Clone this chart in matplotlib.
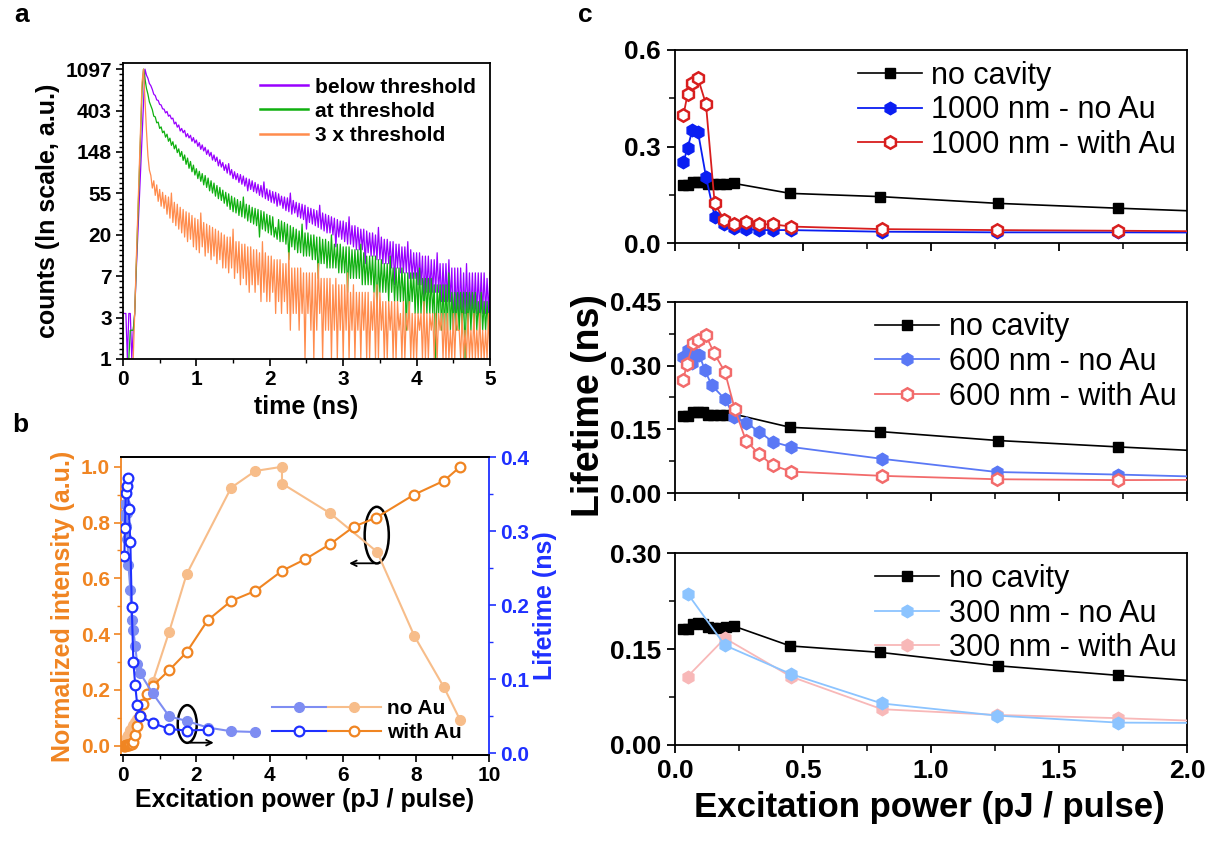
import numpy as np
import matplotlib
matplotlib.use('Agg')
import matplotlib.pyplot as plt
import matplotlib.ticker as ticker
from matplotlib.patches import Ellipse
from matplotlib.lines import Line2D
from matplotlib.legend_handler import HandlerTuple

plt.rcParams['font.family'] = ['Liberation Sans', 'DejaVu Sans']
plt.rcParams['font.weight'] = 'bold'
plt.rcParams['axes.labelweight'] = 'bold'
plt.rcParams['axes.linewidth'] = 1.3

# ---------------- panel a: TRPL decay (counts per 0.02 ns bin) ----------------
t_step = 0.02
below = [3, 3, 3, 1, 3, 3, 1, 2, 3, 8,
         18, 40, 90, 200, 450, 1097, 950, 880, 775, 735,
         672, 598, 580, 522, 515, 468, 462, 420, 418, 381,
         395, 352, 362, 330, 336, 292, 305, 270, 285, 246,
         262, 236, 250, 214, 231, 208, 222, 192, 210, 184,
         198, 170, 186, 158, 176, 152, 166, 140, 156, 134,
         147, 122, 138, 118, 131, 106, 123, 103, 115, 95,
         109, 89, 112, 85, 97, 78, 92, 76, 88, 71,
         86, 68, 83, 65, 79, 58, 77, 60, 74, 57,
         71, 55, 68, 52, 66, 50, 72, 48, 61, 46,
         59, 44, 57, 43, 56, 40, 54, 41, 51, 38,
         50, 36, 49, 35, 55, 33, 46, 34, 44, 31,
         43, 30, 42, 29, 41, 23, 39, 27, 38, 26,
         37, 25, 36, 24, 41, 23, 34, 22, 33, 21,
         32, 21, 31, 20, 30, 15, 29, 19, 28, 18,
         28, 17, 27, 16, 31, 16, 25, 15, 25, 14,
         24, 14, 23, 14, 23, 10, 22, 13, 21, 12,
         21, 12, 20, 11, 24, 11, 19, 10, 18, 10,
         18, 10, 17, 9, 17, 6, 16, 9, 16, 8,
         15, 8, 15, 8, 17, 7, 14, 7, 13, 7,
         13, 6, 13, 6, 12, 4, 12, 5, 12, 5,
         11, 5, 11, 5, 13, 5, 10, 4, 10, 4,
         10, 4, 11, 4, 9, 2, 9, 3, 9, 3,
         9, 3, 8, 3, 10, 3, 8, 3, 8, 3,
         8, 3, 8, 3, 8, 3, 8, 3, 7, 3, 8]
at_thr = [1, 1, 1, 1, 1, 2, 2, 2, 3, 9,
          25, 75, 220, 665, 1097, 870, 690, 600, 498, 452,
          412, 352, 346, 300, 305, 262, 272, 236, 246, 212,
          228, 192, 207, 174, 190, 160, 176, 146, 160, 133,
          150, 121, 138, 110, 128, 100, 118, 92, 108, 85,
          99, 78, 93, 73, 88, 67, 84, 63, 79, 58,
          74, 55, 70, 51, 66, 48, 63, 46, 59, 43,
          56, 40, 54, 37, 51, 35, 49, 34, 47, 32,
          45, 31, 50, 30, 42, 28, 41, 27, 39, 26,
          38, 25, 37, 19, 36, 23, 35, 22, 33, 21,
          32, 20, 31, 19, 24, 18, 29, 17, 28, 17,
          27, 16, 26, 11, 25, 15, 24, 14, 23, 13,
          22, 13, 26, 12, 21, 12, 21, 12, 20, 11,
          20, 11, 19, 7, 19, 10, 18, 10, 18, 9,
          17, 9, 20, 9, 16, 9, 16, 8, 16, 8,
          15, 8, 15, 5, 15, 7, 14, 7, 14, 7,
          14, 7, 16, 6, 13, 6, 12, 6, 12, 6,
          12, 5, 12, 3, 11, 5, 11, 5, 10, 5,
          10, 4, 12, 5, 9, 4, 9, 4, 9, 4,
          9, 4, 8, 2, 8, 3, 8, 4, 8, 3,
          8, 3, 9, 3, 7, 3, 7, 3, 7, 3,
          7, 3, 6, 1, 6, 3, 6, 2, 6, 2,
          6, 2, 8, 2, 5, 2, 5, 2, 5, 2,
          5, 2, 5, 1, 5, 2, 5, 2, 5, 2,
          5, 2, 4, 2, 5, 2, 4, 2, 4, 2, 4]
three_thr = [1, 1, 1, 1, 1, 1, 1, 1, 3, 10,
             30, 90, 280, 800, 1097, 520, 250, 135, 96, 84,
             62, 74, 52, 67, 45, 60, 40, 56, 38, 52,
             33, 50, 30, 55, 27, 44, 25, 42, 23, 39,
             21, 37, 19, 35, 17, 34, 18, 32, 15, 30,
             14, 29, 13, 34, 15, 27, 12, 26, 13, 25,
             11, 24, 12, 23, 10, 22, 11, 21, 9, 20,
             9, 19, 8, 19, 9, 23, 7, 17, 8, 17,
             6, 16, 7, 16, 6, 15, 5, 15, 6, 14,
             5, 14, 6, 13, 4, 17, 5, 13, 4, 12,
             4, 12, 5, 11, 3, 11, 4, 11, 3, 10,
             4, 10, 3, 13, 2, 9, 3, 9, 3, 9,
             2, 9, 3, 8, 1, 8, 3, 8, 2, 8,
             1, 8, 2, 10, 3, 7, 1, 7, 2, 7,
             2, 7, 1, 6, 2, 7, 1, 6, 2, 6,
             1, 6, 2, 8, 1, 5, 2, 6, 1, 5,
             2, 5, 1, 5, 2, 5, 1, 5, 1, 4,
             2, 5, 1, 6, 1, 5, 2, 4, 1, 4,
             1, 4, 2, 4, 1, 4, 1, 4, 2, 3,
             1, 4, 1, 3, 2, 4, 1, 3, 1, 3,
             1, 3, 2, 3, 1, 4, 1, 3, 1, 3,
             2, 3, 1, 3, 1, 3, 2, 3, 1, 3,
             1, 3, 1, 2, 1, 3, 1, 3, 2, 2,
             1, 3, 1, 2, 1, 3, 1, 2, 1, 3,
             1, 2, 1, 3, 1, 2, 1, 2, 1, 3, 1]
a_ticks = [1, 3, 7, 20, 55, 148, 403, 1097]

# ---------------- panel b: intensity vs power (600 nm) ----------------
noau_int_x = [0.033, 0.049, 0.068, 0.082, 0.095, 0.117, 0.143, 0.195, 0.232, 0.277, 0.328, 0.382, 0.453,
              0.808, 1.257, 1.731, 2.95, 3.61, 4.34, 4.34, 5.66, 6.94, 7.96, 8.77, 9.21]
noau_int = [0.002, 0.006, 0.012, 0.018, 0.024, 0.032, 0.040, 0.055, 0.065, 0.075, 0.085, 0.095, 0.110,
            0.229, 0.409, 0.614, 0.925, 0.985, 1.0, 0.94, 0.833, 0.695, 0.393, 0.209, 0.092]
withau_int_x = [0.033, 0.046, 0.072, 0.091, 0.120, 0.152, 0.195, 0.234, 0.277, 0.328, 0.382, 0.453, 0.55, 0.64,
                0.808, 1.257, 1.731, 2.31, 2.95, 3.61, 4.34, 4.98, 5.66, 6.30, 6.92, 7.95, 8.77, 9.21]
withau_int = [0.0, 0.0, 0.001, 0.002, 0.003, 0.004, 0.006, 0.008, 0.012, 0.040, 0.070, 0.105, 0.150, 0.185,
              0.215, 0.271, 0.335, 0.450, 0.519, 0.555, 0.627, 0.669, 0.723, 0.785, 0.818, 0.900, 0.950, 1.0]

# ---------------- panel c: lifetimes (ns) ----------------
nocav_x = [0.03, 0.05, 0.07, 0.09, 0.11, 0.13, 0.15, 0.175, 0.20, 0.23, 0.45, 0.80, 1.26, 1.73, 2.31]
nocav = [0.181, 0.182, 0.190, 0.191, 0.190, 0.185, 0.183, 0.183, 0.184, 0.186, 0.155, 0.145, 0.124, 0.109, 0.092]

x1000 = [0.033, 0.049, 0.068, 0.09, 0.121, 0.155, 0.192, 0.232, 0.277, 0.328, 0.382, 0.453, 0.808, 1.257, 1.731, 2.31]
noau_1000 = [0.253, 0.295, 0.352, 0.345, 0.207, 0.083, 0.059, 0.047, 0.044, 0.041, 0.041, 0.041, 0.036, 0.034, 0.034, 0.033]
withau_1000 = [0.398, 0.462, 0.497, 0.512, 0.432, 0.124, 0.072, 0.059, 0.067, 0.059, 0.059, 0.052, 0.044, 0.041, 0.039, 0.036]

noau_600_x = [0.033, 0.049, 0.068, 0.082, 0.095, 0.117, 0.143, 0.195, 0.232, 0.277, 0.328, 0.382, 0.453,
              0.808, 1.257, 1.731, 2.31, 2.95, 3.61]
noau_600 = [0.321, 0.336, 0.307, 0.325, 0.325, 0.289, 0.254, 0.221, 0.180, 0.166, 0.145, 0.121, 0.109,
            0.081, 0.050, 0.044, 0.035, 0.030, 0.029]
withau_600_x = [0.033, 0.046, 0.072, 0.091, 0.120, 0.152, 0.195, 0.234, 0.277, 0.328, 0.382, 0.453,
                0.808, 1.257, 1.731, 2.31]
withau_600 = [0.266, 0.304, 0.352, 0.361, 0.372, 0.330, 0.285, 0.197, 0.124, 0.092, 0.066, 0.051,
              0.041, 0.033, 0.031, 0.032]

x300 = [0.049, 0.195, 0.453, 0.808, 1.257, 1.731, 2.31]
noau_300 = [0.237, 0.156, 0.111, 0.065, 0.046, 0.035, 0.034]
withau_300 = [0.107, 0.167, 0.107, 0.056, 0.047, 0.042, 0.034]

fig = plt.figure(figsize=(12.09, 8.46), dpi=100)

# ================= panel a =================
ax_a = fig.add_axes([0.1017, 0.5757, 0.3036, 0.3499])
ax_a.plot(np.arange(len(below)) * t_step, below, color='#9900ff', lw=0.9, label='below threshold')
ax_a.plot(np.arange(len(at_thr)) * t_step, at_thr, color='#10b010', lw=0.9, label='at threshold')
ax_a.plot(np.arange(len(three_thr)) * t_step, three_thr, color='#ff8c4d', lw=0.9, label='3 x threshold')
ax_a.set_yscale('log', base=np.e)
ax_a.set_xlim(0, 5)
ax_a.set_ylim(1, np.exp(7.15))
ax_a.yaxis.set_major_locator(ticker.FixedLocator(np.exp(np.arange(8))))
ax_a.yaxis.set_major_formatter(ticker.FixedFormatter([str(v) for v in a_ticks]))
ax_a.yaxis.set_minor_locator(ticker.FixedLocator(
    [np.exp(k + j / 8) for k in range(8) for j in range(1, 8)]))
ax_a.yaxis.set_minor_formatter(ticker.NullFormatter())
ax_a.xaxis.set_major_locator(ticker.MultipleLocator(1))
ax_a.xaxis.set_minor_locator(ticker.MultipleLocator(0.5))
ax_a.tick_params(which='major', direction='out', length=5, width=1.2, labelsize=15, pad=3)
ax_a.tick_params(which='minor', direction='out', length=3, width=1.0)
ax_a.set_xlabel('time (ns)', fontsize=18, labelpad=4)
ax_a.set_ylabel('counts (ln scale, a.u.)', fontsize=18, labelpad=4)
leg_a = ax_a.legend(loc='upper right', frameon=False, fontsize=15, handlelength=2.3,
                    labelspacing=0.25, handletextpad=0.3, borderaxespad=0.3)
for ln in leg_a.get_lines():
    ln.set_linewidth(1.8)

# ================= panel b =================
c_or = '#f08522'
c_or_l = '#f7bd8a'
c_bl = '#1f30ff'
c_bl_l = '#7e8df2'
ax_b = fig.add_axes([0.1001, 0.1076, 0.3044, 0.3522])
ax_b.plot(noau_int_x, noau_int, color=c_or_l, lw=1.5, marker='o', ms=7, mfc=c_or_l, mec=c_or_l)
ax_b.plot(withau_int_x, withau_int, color=c_or, lw=1.5, marker='o', ms=7, mfc='white', mec=c_or, mew=1.6)
ax_b.set_xlim(-0.06, 10)
ax_b.set_ylim(-0.033, 1.035)
ax_b.xaxis.set_major_locator(ticker.MultipleLocator(2))
ax_b.xaxis.set_minor_locator(ticker.MultipleLocator(1))
ax_b.yaxis.set_major_locator(ticker.MultipleLocator(0.2))
ax_b.yaxis.set_minor_locator(ticker.MultipleLocator(0.1))
ax_b.yaxis.set_major_formatter(ticker.FormatStrFormatter('%.1f'))
ax_b.tick_params(which='major', direction='out', length=5, width=1.2, labelsize=15, pad=3)
ax_b.tick_params(which='minor', direction='out', length=3, width=1.0)
ax_b.tick_params(axis='y', which='both', colors=c_or)
ax_b.spines['left'].set_color(c_or)
ax_b.spines['right'].set_visible(False)
ax_b.set_xlabel('Excitation power (pJ / pulse)', fontsize=18, labelpad=2)
ax_b.set_ylabel('Normalized intensity (a.u.)', fontsize=18, color=c_or, labelpad=4)
ax_b.add_patch(Ellipse((6.93, 0.755), 0.66, 0.203, fill=False, ec='black', lw=1.8))
ax_b.annotate('', xy=(6.1, 0.654), xytext=(6.93, 0.654),
              arrowprops=dict(arrowstyle='->', color='black', lw=1.3))
ax_b.add_patch(Ellipse((1.75, 0.078), 0.52, 0.135, fill=False, ec='black', lw=1.8))
ax_b.annotate('', xy=(2.55, 0.011), xytext=(1.75, 0.011),
              arrowprops=dict(arrowstyle='->', color='black', lw=1.3))

ax_b2 = ax_b.twinx()
ax_b2.plot(noau_600_x, noau_600, color=c_bl_l, lw=1.5, marker='o', ms=7, mfc=c_bl_l, mec=c_bl_l)
ax_b2.plot(withau_600_x, withau_600, color=c_bl, lw=1.5, marker='o', ms=7, mfc='white', mec=c_bl, mew=1.6)
ax_b2.set_ylim(-0.002, 0.4)
ax_b2.yaxis.set_major_locator(ticker.MultipleLocator(0.1))
ax_b2.yaxis.set_minor_locator(ticker.MultipleLocator(0.05))
ax_b2.yaxis.set_major_formatter(ticker.FormatStrFormatter('%.1f'))
ax_b2.tick_params(which='major', direction='out', length=5, width=1.2, labelsize=15, pad=3, colors=c_bl)
ax_b2.tick_params(which='minor', direction='out', length=3, width=1.0, colors=c_bl)
ax_b2.spines['right'].set_color(c_bl)
ax_b2.spines['left'].set_visible(False)
ax_b2.set_ylabel('Lifetime (ns)', fontsize=18, color=c_bl, labelpad=3)

h_no = (Line2D([], [], color=c_bl_l, lw=1.5, marker='o', ms=7, mfc=c_bl_l, mec=c_bl_l),
        Line2D([], [], color=c_or_l, lw=1.5, marker='o', ms=7, mfc=c_or_l, mec=c_or_l))
h_with = (Line2D([], [], color=c_bl, lw=1.5, marker='o', ms=7, mfc='white', mec=c_bl, mew=1.6),
          Line2D([], [], color=c_or, lw=1.5, marker='o', ms=7, mfc='white', mec=c_or, mew=1.6))
ax_b2.legend([h_no, h_with], ['no Au', 'with Au'], handler_map={tuple: HandlerTuple(ndivide=None, pad=0.1)},
             loc='lower right', bbox_to_anchor=(0.96, 0.0), frameon=False, fontsize=15,
             handlelength=5.2, handletextpad=0.3, labelspacing=0.25, borderaxespad=0.2)

# ================= panel c =================
c_rows = [
    dict(pos=[0.5583, 0.7124, 0.4235, 0.2285], ymax=0.6, major=0.3, minor=0.15, fmt='%.1f',
         x2=x1000, y2=noau_1000, c2='#0a1ef2', l2='1000 nm - no Au',
         x3=x1000, y3=withau_1000, c3='#d81e1e', l3='1000 nm - with Au', open3=True),
    dict(pos=[0.5583, 0.4169, 0.4235, 0.2265], ymax=0.45, major=0.15, minor=0.075, fmt='%.2f',
         x2=noau_600_x, y2=noau_600, c2='#5a78f5', l2='600 nm - no Au',
         x3=withau_600_x, y3=withau_600, c3='#f26b6b', l3='600 nm - with Au', open3=True),
    dict(pos=[0.5583, 0.1194, 0.4235, 0.2266], ymax=0.30, major=0.15, minor=0.075, fmt='%.2f',
         x2=x300, y2=noau_300, c2='#8cc4ff', l2='300 nm - no Au',
         x3=x300, y3=withau_300, c3='#f8b8b8', l3='300 nm - with Au', open3=False),
]
for i, r in enumerate(c_rows):
    ax = fig.add_axes(r['pos'])
    ax.plot(nocav_x, nocav, color='black', lw=1.2, marker='s', ms=7.5, label='no cavity', zorder=3)
    ax.plot(r['x2'], r['y2'], color=r['c2'], lw=1.3, marker='h', ms=9, mfc=r['c2'], mec=r['c2'],
            label=r['l2'], zorder=4 if not r['open3'] else 3)
    if r['open3']:
        ax.plot(r['x3'], r['y3'], color=r['c3'], lw=1.3, marker='h', ms=9, mfc='white', mec=r['c3'],
                mew=1.8, label=r['l3'], zorder=3)
    else:
        ax.plot(r['x3'], r['y3'], color=r['c3'], lw=1.3, marker='h', ms=9, mfc=r['c3'], mec=r['c3'],
                label=r['l3'], zorder=3)
    ax.set_xlim(0, 2.0)
    ax.set_ylim(0, r['ymax'])
    ax.xaxis.set_major_locator(ticker.MultipleLocator(0.5))
    ax.xaxis.set_minor_locator(ticker.MultipleLocator(0.25))
    ax.yaxis.set_major_locator(ticker.MultipleLocator(r['major']))
    ax.yaxis.set_minor_locator(ticker.MultipleLocator(r['minor']))
    ax.yaxis.set_major_formatter(ticker.FormatStrFormatter(r['fmt']))
    ax.xaxis.set_major_formatter(ticker.FormatStrFormatter('%.1f'))
    ax.tick_params(which='major', direction='out', length=6, width=1.3, labelsize=19, pad=4)
    ax.tick_params(which='minor', direction='out', length=4, width=1.1)
    if i < 2:
        ax.tick_params(axis='x', labelbottom=False)
    handles, labels = ax.get_legend_handles_labels()
    leg = ax.legend(handles, labels, loc='upper right', bbox_to_anchor=(1.0, 1.0), frameon=False,
                    fontsize=22, handlelength=2.1, labelspacing=0.15, handletextpad=0.3,
                    borderaxespad=0.15, borderpad=0.2)
    for txt in leg.get_texts():
        txt.set_fontweight('normal')

fig.text(0.487, 0.521, 'Lifetime (ns)', rotation=90, ha='center', va='center', fontsize=27, fontweight='bold')
fig.text(0.769, 0.045, 'Excitation power (pJ / pulse)', ha='center', va='center', fontsize=25, fontweight='bold')

fig.text(0.018, 0.982, 'a', ha='center', va='center', fontsize=19, fontweight='bold')
fig.text(0.017, 0.498, 'b', ha='center', va='center', fontsize=19, fontweight='bold')
fig.text(0.484, 0.982, 'c', ha='center', va='center', fontsize=19, fontweight='bold')

fig.savefig('out.png', dpi=100)
